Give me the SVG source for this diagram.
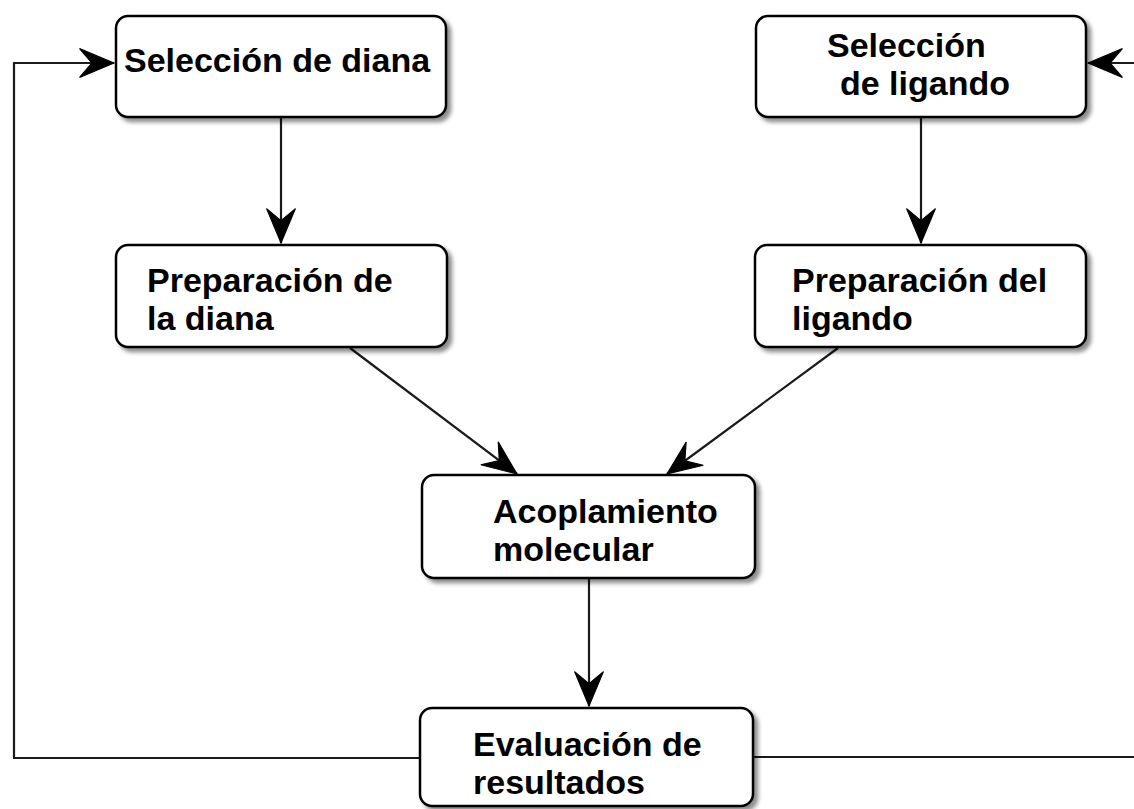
<svg xmlns="http://www.w3.org/2000/svg" width="1134" height="809" viewBox="0 0 1134 809">
  <style>
    .box { fill: #ffffff; stroke: #000000; stroke-width: 2.5; filter: url(#shadow); }
    .lbl { font-family: "Liberation Sans", Arial, sans-serif; font-weight: bold; font-size: 34px; fill: #000000; }
    .conn { fill: none; stroke: #1a1a1a; stroke-width: 2.2; }
  </style>
  <defs>
    <filter id="shadow" x="-10%" y="-10%" width="130%" height="140%">
      <feDropShadow dx="4" dy="4" stdDeviation="2" flood-color="#000000" flood-opacity="0.45"/>
    </filter>
    <marker id="arrow" markerUnits="userSpaceOnUse" markerWidth="40" markerHeight="40" viewBox="-34 -16 36 32" refX="0" refY="0" orient="auto">
      <path d="M0,0 L-31,-13 L-20,0 L-31,13 Z" fill="#000000" stroke="#000000" stroke-width="1" stroke-linejoin="miter"/>
    </marker>
  </defs>

  <g id="connectors">
    <path class="conn" d="M281,118 L281,243" marker-end="url(#arrow)"/>
    <path class="conn" d="M921,118 L921,243" marker-end="url(#arrow)"/>
    <path class="conn" d="M350,348 L517,474" marker-end="url(#arrow)"/>
    <path class="conn" d="M838,348 L667,474" marker-end="url(#arrow)"/>
    <path class="conn" d="M589,579 L589,706" marker-end="url(#arrow)"/>
    <path class="conn" d="M420,758 L14,758 L14,63 L114,63" marker-end="url(#arrow)"/>
    <path class="conn" d="M753,757 L1140,757 L1140,63 L1088,63" marker-end="url(#arrow)"/>
  </g>

  <g id="node-seleccion-diana">
    <rect class="box" x="116" y="16" width="330" height="101" rx="12" ry="12"/>
    <text class="lbl" x="124" y="72">Selección de diana</text>
  </g>

  <g id="node-seleccion-ligando">
    <rect class="box" x="756" y="16" width="330" height="101" rx="12" ry="12"/>
    <text class="lbl" x="827" y="57">Selección</text>
    <text class="lbl" x="840" y="95">de ligando</text>
  </g>

  <g id="node-preparacion-diana">
    <rect class="box" x="116" y="245" width="331" height="102" rx="12" ry="12"/>
    <text class="lbl" x="147" y="292">Preparación de</text>
    <text class="lbl" x="147" y="330">la diana</text>
  </g>

  <g id="node-preparacion-ligando">
    <rect class="box" x="755" y="245" width="331" height="102" rx="12" ry="12"/>
    <text class="lbl" x="792" y="292">Preparación del</text>
    <text class="lbl" x="792" y="330">ligando</text>
  </g>

  <g id="node-acoplamiento">
    <rect class="box" x="422" y="475" width="333" height="103" rx="12" ry="12"/>
    <text class="lbl" x="493" y="523">Acoplamiento</text>
    <text class="lbl" x="493" y="561">molecular</text>
  </g>

  <g id="node-evaluacion">
    <rect class="box" x="420" y="708" width="333" height="98" rx="12" ry="12"/>
    <text class="lbl" x="473" y="756">Evaluación de</text>
    <text class="lbl" x="473" y="794">resultados</text>
  </g>
</svg>
